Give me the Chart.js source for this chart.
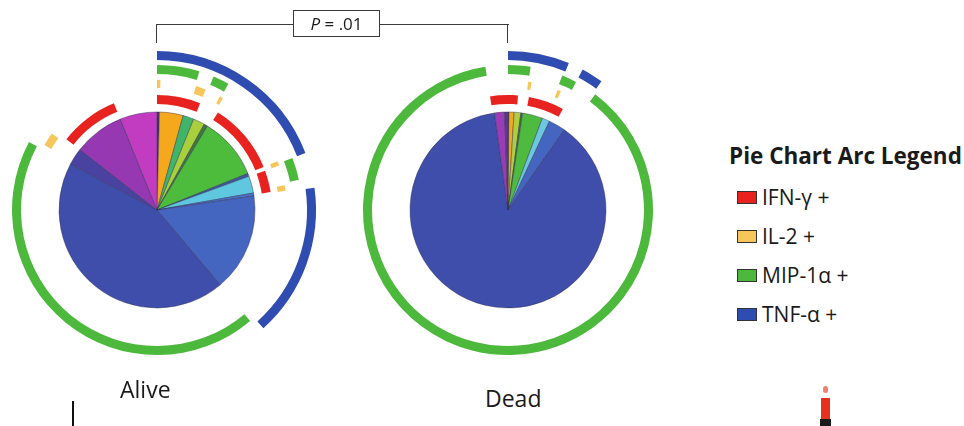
<!DOCTYPE html>
<html><head><meta charset="utf-8">
<script src="https://cdn.jsdelivr.net/npm/chart.js@4.4.0/dist/chart.umd.min.js"></script>
<style>
html,body{margin:0;padding:0;background:#fff;width:964px;height:426px;overflow:hidden;position:relative;font-family:"Open Sans",sans-serif;color:#1a1a1a;}
.wrap{position:absolute;width:340px;height:340px;}
.abs{position:absolute;white-space:nowrap;}
.hl{position:absolute;height:0;border-top:1.6px solid #3a3a3a;}
.vl{position:absolute;width:0;border-left:1.6px solid #3a3a3a;}
.sw{position:absolute;width:18px;height:11px;border:1px solid #333;}
.lt{position:absolute;font-size:21px;line-height:24px;white-space:nowrap;}
</style></head><body>
<div class="wrap" style="left:-13px;top:40px"><canvas id="alive" width="340" height="340"></canvas></div>
<div class="wrap" style="left:338px;top:40px"><canvas id="dead" width="340" height="340"></canvas></div>

<div class="hl" style="left:156px;top:24px;width:137px"></div>
<div class="hl" style="left:380px;top:24px;width:129px"></div>
<div class="vl" style="left:156px;top:24px;height:19px"></div>
<div class="vl" style="left:507px;top:24px;height:19px"></div>
<div class="abs" style="left:293px;top:10px;width:85px;height:25px;border:1.6px solid #3a3a3a;text-align:center;font-size:17px;line-height:25px;"><i>P</i> = .01</div>

<div class="abs" id="legTitle" style="left:729px;top:140px;font-size:22.5px;font-weight:700;"></div>
<div id="legend"></div>

<div class="abs" id="lab0" style="left:120px;top:373px;font-size:23px;"></div>
<div class="abs" id="lab1" style="left:485px;top:382px;font-size:23px;"></div>

<div class="abs" style="left:72px;top:401px;width:2px;height:25px;background:#111"></div>
<div class="abs" style="left:823px;top:386px;width:5px;height:7px;background:#f08070;border-radius:3px"></div>
<div class="abs" style="left:821px;top:398px;width:9px;height:21px;background:#e8301e"></div>
<div class="abs" style="left:820px;top:419px;width:11px;height:7px;background:#1a1a1a"></div>

<script>
// ---- data ----
const groupLabels = ['Alive', 'Dead'];
const legendTitle = 'Pie Chart Arc Legend';
const arcNames = ['IFN-γ +', 'IL-2 +', 'MIP-1α +', 'TNF-α +'];
const arcColors = ['#e8231f', '#f6c65a', '#4cb93c', '#2f4cb0'];

// pie slices (% of cells), clockwise from 12 o'clock
const aliveSlices = [0.4, 3.9, 1.8, 1.9, 0.6, 10.3, 0.5, 2.8, 0.5, 16.1, 43.9, 2.8, 8.3, 6.1];
const aliveSliceColors = ['#3a3a6a', '#f5a81c', '#3fb56a', '#a9cf3c', '#3d7a3a', '#4dbb3b', '#3a5a9a',
  '#5fc7df', '#4a70c8', '#4566c0', '#3f4dab', '#4a42a0', '#9638b2', '#c23cc1'];

const deadSlices = [0.15, 0.85, 1.1, 0.3, 3.3, 1.25, 2.8, 88.05, 1.65, 0.55];
const deadSliceColors = ['#3a3a6a', '#f5a81c', '#b0cf40', '#3d7a3a', '#4fbb3e', '#6cc8e0', '#4566c0',
  '#3f4dab', '#9a3cb6', '#5a3a8a'];

// arc ranges [start, end] in degrees clockwise from 12 o'clock
const aliveIFN = [[308, 338], [0, 22], [32, 68], [70, 81]];
const aliveIL2 = [[300, 306], [0, 1.5], [17.5, 22], [29, 30.5], [68, 70], [79, 81.5]];
const aliveMIP = [[140, 298], [0, 17], [23, 29.5], [69, 78]];
const aliveTNF = [[0, 69], [82, 138]];

const deadIFN = [[351, 5], [10.5, 28.5]];
const deadIL2 = [[9, 10.5], [22.5, 24]];
const deadMIP = [[37, 351], [0, 9], [22, 28]];
const deadTNF = [[0, 22.5], [28, 36]];

// ring thickness weights (outer -> inner): TNF, gap, MIP, gap, IL2, gap, IFN, gap, pie
const ringWeights = [9, 5, 9, 6, 8, 7, 9, 8, 98];

// ---- build ----
const CLEAR = 'rgba(0,0,0,0)';
function ringData(ranges, color) {
  const segs = [];
  ranges.forEach(([s, e]) => { if (e < s) { segs.push([s, 360]); segs.push([0, e]); } else segs.push([s, e]); });
  segs.sort((a, b) => a[0] - b[0]);
  const data = [], colors = [];
  let pos = 0;
  segs.forEach(([s, e]) => {
    if (s > pos) { data.push(s - pos); colors.push(CLEAR); }
    data.push(e - s); colors.push(color); pos = e;
  });
  if (pos < 360) { data.push(360 - pos); colors.push(CLEAR); }
  return { data, backgroundColor: colors, borderWidth: 0 };
}
function spacer() { return { data: [1], backgroundColor: [CLEAR], borderWidth: 0 }; }

function makeChart(id, slices, sliceColors, ifn, il2, mip, tnf) {
  const ds = [
    ringData(tnf, arcColors[3]), spacer(),
    ringData(mip, arcColors[2]), spacer(),
    ringData(il2, arcColors[1]), spacer(),
    ringData(ifn, arcColors[0]), spacer(),
    { data: slices, backgroundColor: sliceColors, borderColor: 'rgba(45,45,80,0.55)', borderWidth: 0.8 }
  ];
  ds.forEach((d, i) => d.weight = ringWeights[i]);
  new Chart(document.getElementById(id), {
    type: 'doughnut',
    data: { labels: slices.map((_, i) => 'S' + i), datasets: ds },
    options: {
      responsive: false, animation: false, events: [],
      cutout: 0, radius: 159,
      layout: { padding: 0 },
      plugins: { legend: { display: false }, tooltip: { enabled: false } }
    }
  });
}
makeChart('alive', aliveSlices, aliveSliceColors, aliveIFN, aliveIL2, aliveMIP, aliveTNF);
makeChart('dead', deadSlices, deadSliceColors, deadIFN, deadIL2, deadMIP, deadTNF);

document.getElementById('legTitle').textContent = legendTitle;
document.getElementById('lab0').textContent = groupLabels[0];
document.getElementById('lab1').textContent = groupLabels[1];
const leg = document.getElementById('legend');
const rowY = [191, 230, 269, 308];
arcNames.forEach((n, i) => {
  const sw = document.createElement('div');
  sw.className = 'sw'; sw.style.left = '737px'; sw.style.top = rowY[i] + 'px'; sw.style.background = arcColors[i];
  const t = document.createElement('div');
  t.className = 'lt'; t.style.left = '762px'; t.style.top = (rowY[i] - 6) + 'px'; t.textContent = n;
  leg.appendChild(sw); leg.appendChild(t);
});
</script>
</body></html>
